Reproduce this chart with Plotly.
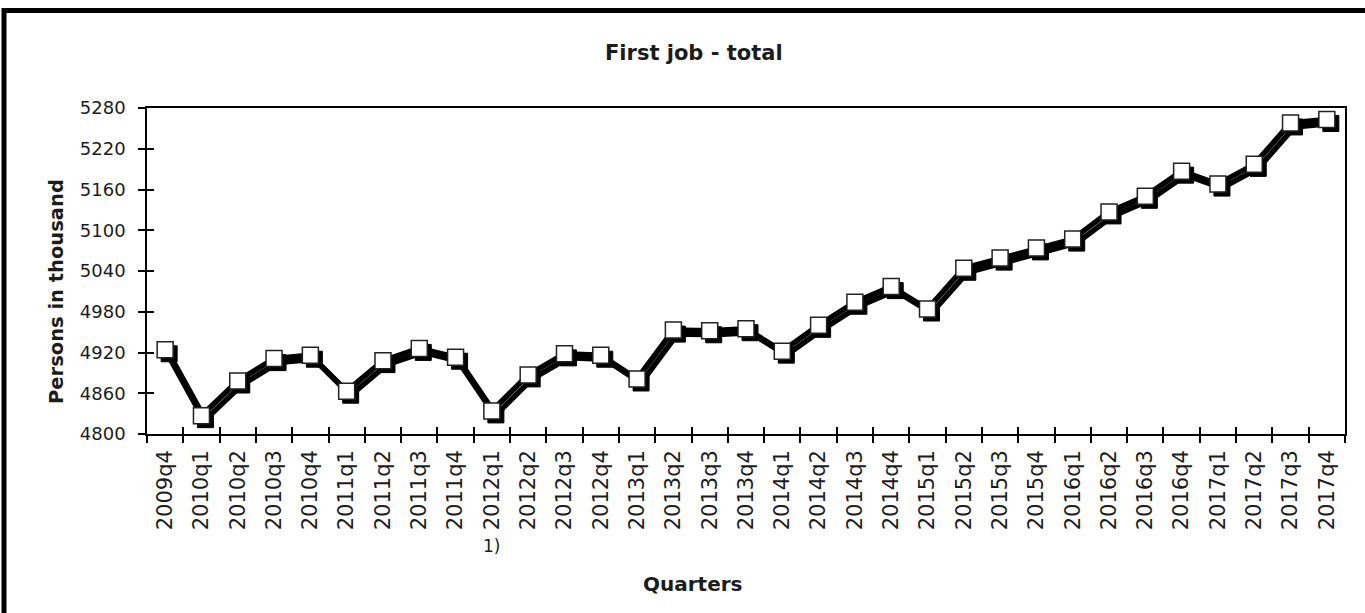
import plotly.graph_objects as go

quarters = ["2009q4", "2010q1", "2010q2", "2010q3", "2010q4", "2011q1", "2011q2", "2011q3",
            "2011q4", "2012q1", "2012q2", "2012q3", "2012q4", "2013q1", "2013q2", "2013q3",
            "2013q4", "2014q1", "2014q2", "2014q3", "2014q4", "2015q1", "2015q2", "2015q3",
            "2015q4", "2016q1", "2016q2", "2016q3", "2016q4", "2017q1", "2017q2", "2017q3",
            "2017q4"]
persons = [4924, 4827, 4878, 4911, 4916, 4863, 4908, 4926,
           4913, 4834, 4887, 4918, 4916, 4881, 4953, 4952,
           4955, 4922, 4960, 4994, 5017, 4984, 5044, 5059,
           5074, 5087, 5127, 5150, 5187, 5168, 5197, 5258,
           5263]
y_ticks = [4800, 4860, 4920, 4980, 5040, 5100, 5160, 5220, 5280]

title_text = "First job - total"
y_title = "Persons in thousand"
x_title = "Quarters"
note_text = "1)"
note_at = "2012q1"

FONT = "DejaVu Sans, Arial, sans-serif"
TXT = "#1c1c1c"

W, H = 1365, 613
L, R, T, B = 147, 20, 108, 179
pw = W - L - R
ph = H - T - B

n = len(quarters)
xr = [-0.5, n - 0.5]
yr = [y_ticks[0], y_ticks[-1]]

# shadow offset in pixels -> axis-range shifts
sx_px, sy_px = 4, 4
dx = sx_px * (xr[1] - xr[0]) / pw
dy = sy_px * (yr[1] - yr[0]) / ph

fig = go.Figure()

# invisible trace on the base axes (carries the category labels)
fig.add_trace(go.Scatter(
    x=quarters, y=persons, mode="lines", line=dict(width=0), opacity=0,
    hoverinfo="skip", showlegend=False))

# shadow (shifted axes)
fig.add_trace(go.Scatter(
    x=quarters, y=persons, xaxis="x2", yaxis="y2", mode="lines+markers",
    line=dict(color="black", width=5.5),
    marker=dict(symbol="square", size=16, color="black", line=dict(color="black", width=1)),
    hoverinfo="skip", showlegend=False))

# main series
fig.add_trace(go.Scatter(
    x=quarters, y=persons, xaxis="x3", yaxis="y3", mode="lines+markers",
    line=dict(color="black", width=5.5),
    marker=dict(symbol="square", size=16, color="white", line=dict(color="#222222", width=1.5)),
    showlegend=False, cliponaxis=False))

fig.update_layout(
    width=W, height=H,
    margin=dict(l=L, r=R, t=T, b=B, autoexpand=False),
    paper_bgcolor="white", plot_bgcolor="white",
    font=dict(family=FONT, color=TXT),
    xaxis=dict(
        type="category", categoryorder="array", categoryarray=quarters,
        range=xr, tickson="boundaries", ticks="outside", ticklen=7, tickwidth=1.5,
        tickcolor="black", showline=True, linecolor="black", linewidth=1.5, mirror=True,
        showgrid=False, zeroline=False, tickangle=-90,
        tickfont=dict(family=FONT, size=21, color=TXT), ticklabelstandoff=6,
    ),
    yaxis=dict(
        range=yr, tickvals=y_ticks, ticks="outside", ticklen=7, tickwidth=1.5,
        tickcolor="black", showline=True, linecolor="black", linewidth=1.5, mirror=True,
        showgrid=False, zeroline=False,
        tickfont=dict(family=FONT, size=18, color=TXT), ticklabelstandoff=9,
    ),
    xaxis2=dict(type="category", categoryorder="array", categoryarray=quarters,
                range=[xr[0] - dx, xr[1] - dx], overlaying="x", anchor="y2", visible=False),
    yaxis2=dict(range=[yr[0] + dy, yr[1] + dy], overlaying="y", anchor="x2", visible=False),
    xaxis3=dict(type="category", categoryorder="array", categoryarray=quarters,
                range=xr, overlaying="x", anchor="y3", tickson="boundaries",
                ticks="inside", ticklen=7, tickwidth=1.5, tickcolor="black",
                showticklabels=False, showline=False, showgrid=False, zeroline=False,
                side="bottom"),
    yaxis3=dict(range=yr, overlaying="y", anchor="x3", tickvals=y_ticks, ticks="inside",
                ticklen=7, tickwidth=1.5, tickcolor="black", showticklabels=False,
                showline=False, showgrid=False, zeroline=False, side="left"),
)

def px_x(p):
    return (p - L) / pw

def px_y(p):
    return (H - B - p) / ph

def note(text, x, y, size, bold=False, angle=0, xref="paper"):
    fig.add_annotation(text=f"<b>{text}</b>" if bold else text, xref=xref, yref="paper",
                       x=x, y=y, xanchor="center", yanchor="middle", textangle=angle,
                       showarrow=False, font=dict(family=FONT, size=size, color=TXT))

note(title_text, px_x(694), px_y(53), 21, bold=True)
note(y_title, px_x(56), px_y(292), 19.5, bold=True, angle=-90)
note(x_title, px_x(693), px_y(584), 20, bold=True)
note(note_text, note_at, px_y(546), 17, xref="x")

# outer frame
fig.add_shape(type="rect", xref="paper", yref="paper",
              x0=px_x(4), x1=px_x(1380), y0=px_y(640), y1=px_y(10.5),
              line=dict(color="black", width=5), fillcolor="rgba(0,0,0,0)", layer="above")

fig.write_html("out.html", config={"displayModeBar": False},
               post_script="document.body.style.margin='0';document.body.style.overflow='hidden';")
